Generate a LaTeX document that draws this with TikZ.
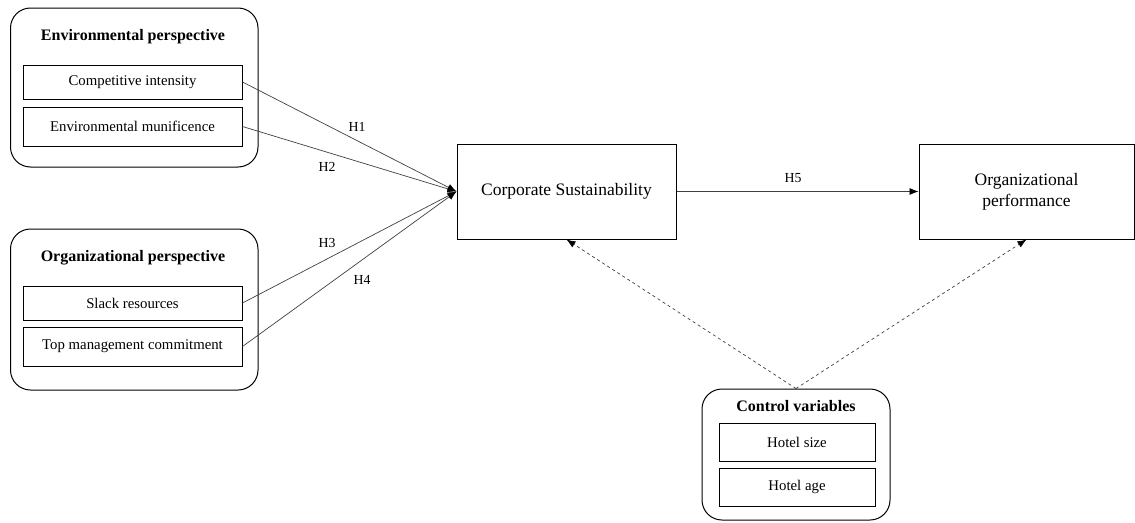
\documentclass[tikz,border=0pt]{standalone}
\usepackage{fontspec}
\setmainfont{Liberation Serif}
\usetikzlibrary{arrows.meta,calc}
\begin{document}
\begin{tikzpicture}[x=1pt,y=-1pt,
  group/.style={draw, line width=1pt, rounded corners=20pt, inner sep=0pt},
  item/.style={draw, line width=1pt, inner sep=0pt, minimum width=219pt, font=\fontsize{14.8}{17}\selectfont},
  smallitem/.style={item, minimum width=156pt, minimum height=38pt},
  construct/.style={draw, line width=1pt, inner sep=0pt, minimum height=95pt, align=center, font=\fontsize{17.5}{21}\selectfont},
  head/.style={inner sep=0pt, font=\bfseries\fontsize{16}{19}\selectfont},
  hyp/.style={inner sep=0pt, font=\fontsize{13.8}{16}\selectfont},
  effect/.style={draw=black!75, line width=0.7pt, -{Latex[length=9pt,width=7pt,color=black]}},
  control/.style={draw=black!75, dashed, line width=0.7pt, -{Latex[length=9pt,width=7pt,color=black]}},
]
\useasboundingbox (0,0) rectangle (1135,522);

% Environmental perspective
\node[group, minimum width=247.5pt, minimum height=159pt] (env) at (134.25,87.5) {};
\node[head] (envt) at (133,37) {Environmental perspective};
\node[item, minimum height=34pt] (ci) at (132.5,82) {Competitive intensity};
\node[item, minimum height=39pt] (em) at (132.5,126.5) {Environmental munificence};

% Organizational perspective
\node[group, minimum width=247.5pt, minimum height=161pt] (org) at (134.25,309.5) {};
\node[head] (orgt) at (133,258) {Organizational perspective};
\node[item, minimum height=34pt] (sr) at (132.5,303) {Slack resources};
\node[item, minimum height=39pt] (tm) at (132.5,346.5) {Top management commitment};

% Main constructs
\node[construct, minimum width=219pt] (cs) at (566.5,191.5) {Corporate Sustainability};
\node[construct, minimum width=215pt] (op) at (1026.5,191.5) {Organizational\\performance};

% Control variables
\node[group, minimum width=188pt, minimum height=131pt] (ctrl) at (796,454.5) {};
\node[head] (ctrlt) at (796,406) {Control variables};
\node[smallitem] (hs) at (797,442) {Hotel size};
\node[smallitem] (ha) at (797,487) {Hotel age};

% Hypothesised effects
\draw[effect] (ci.east) -- (cs.west);
\draw[effect] (em.east) -- (cs.west);
\draw[effect] (sr.east) -- (cs.west);
\draw[effect] (tm.east) -- (cs.west);
\draw[effect] (cs.east) -- (op.west);

\node[hyp] (h1) at (357,127) {H1};
\node[hyp] (h2) at (327,167) {H2};
\node[hyp] (h3) at (327,243) {H3};
\node[hyp] (h4) at (362,280) {H4};
\node[hyp] (h5) at (793,178) {H5};

% Control effects
\draw[control] (ctrl.north) -- (cs.south);
\draw[control] (ctrl.north) -- (op.south);
\end{tikzpicture}
\end{document}
